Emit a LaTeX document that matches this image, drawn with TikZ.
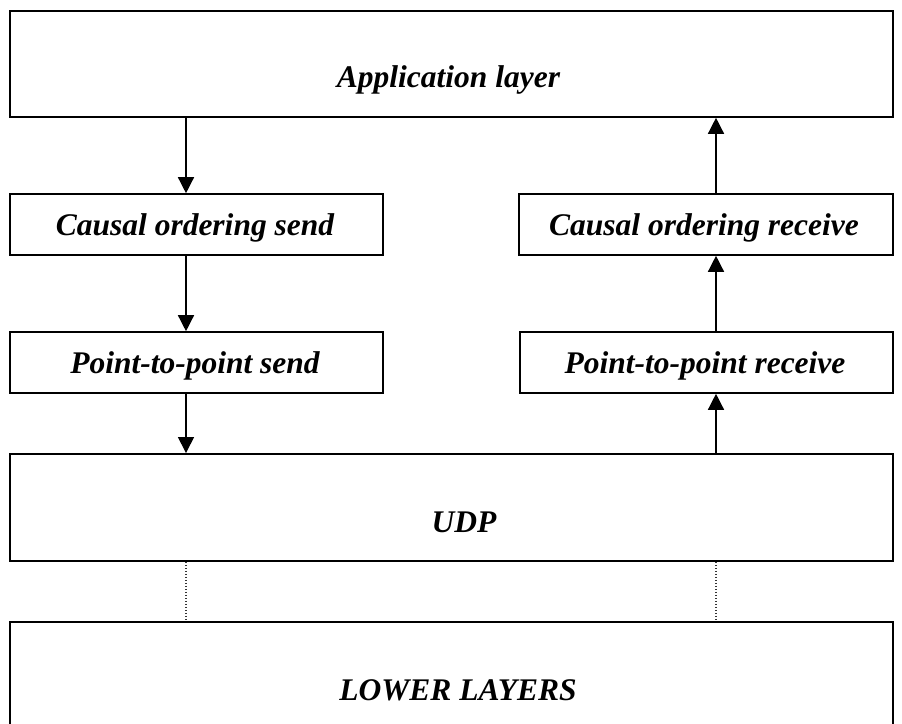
\documentclass[tikz,border=0pt]{standalone}
\usepackage{fontspec}
\setmainfont{Liberation Serif}
\usetikzlibrary{arrows.meta}
\begin{document}
\begin{tikzpicture}[x=1pt,y=-1pt,
  box/.style={draw, line width=1.6pt, inner sep=0pt, minimum width=#1},
  lbl/.style={anchor=base, inner sep=0pt, font=\fontsize{31.5}{36}\selectfont\bfseries\itshape},
  arr/.style={line width=1.4pt, -{Triangle[width=16pt,length=16pt]}},
  dots/.style={line width=1.1pt, black!80, dash pattern=on 1.5pt off 1.5pt}]
\useasboundingbox (0,0) rectangle (902,723);
\clip (0,0) rectangle (902,723);
% boxes
\node[box=883pt, minimum height=106pt] (app) at (451.5,64) {};
\node[box=373pt, minimum height=61pt] (csend) at (196.5,224.5) {};
\node[box=374pt, minimum height=61pt] (crecv) at (706,224.5) {};
\node[box=373pt, minimum height=61pt] (psend) at (196.5,362.5) {};
\node[box=373pt, minimum height=61pt] (precv) at (706.5,362.5) {};
\node[box=883pt, minimum height=107pt, line width=1.9pt] (udp) at (451.5,507.5) {};
\node[box=883pt, minimum height=118pt, line width=1.9pt] (lower) at (451.5,681) {};
% labels
\node[lbl] (tapp) at (448.5,87) {Application layer};
\node[lbl] (tcsend) at (195,235) {Causal ordering send};
\node[lbl] (tcrecv) at (704,235) {Causal ordering receive};
\node[lbl] (tpsend) at (195,373) {Point-to-point send};
\node[lbl] (tprecv) at (705,373) {Point-to-point receive};
\node[lbl] (tudp) at (464,532) {UDP};
\node[lbl] (tlower) at (458,700) {LOWER LAYERS};
% connector columns
\coordinate (lx) at (186,0);
\coordinate (rx) at (716,0);
% send side
\draw[arr] (lx |- app.south) -- (lx |- csend.north);
\draw[arr] (lx |- csend.south) -- (lx |- psend.north);
\draw[arr] (lx |- psend.south) -- (lx |- udp.north);
% receive side
\draw[arr] (rx |- udp.north) -- (rx |- precv.south);
\draw[arr] (rx |- precv.north) -- (rx |- crecv.south);
\draw[arr] (rx |- crecv.north) -- (rx |- app.south);
% dotted links
\draw[dots] (lx |- udp.south) -- (lx |- lower.north);
\draw[dots] (rx |- udp.south) -- (rx |- lower.north);
\end{tikzpicture}
\end{document}
